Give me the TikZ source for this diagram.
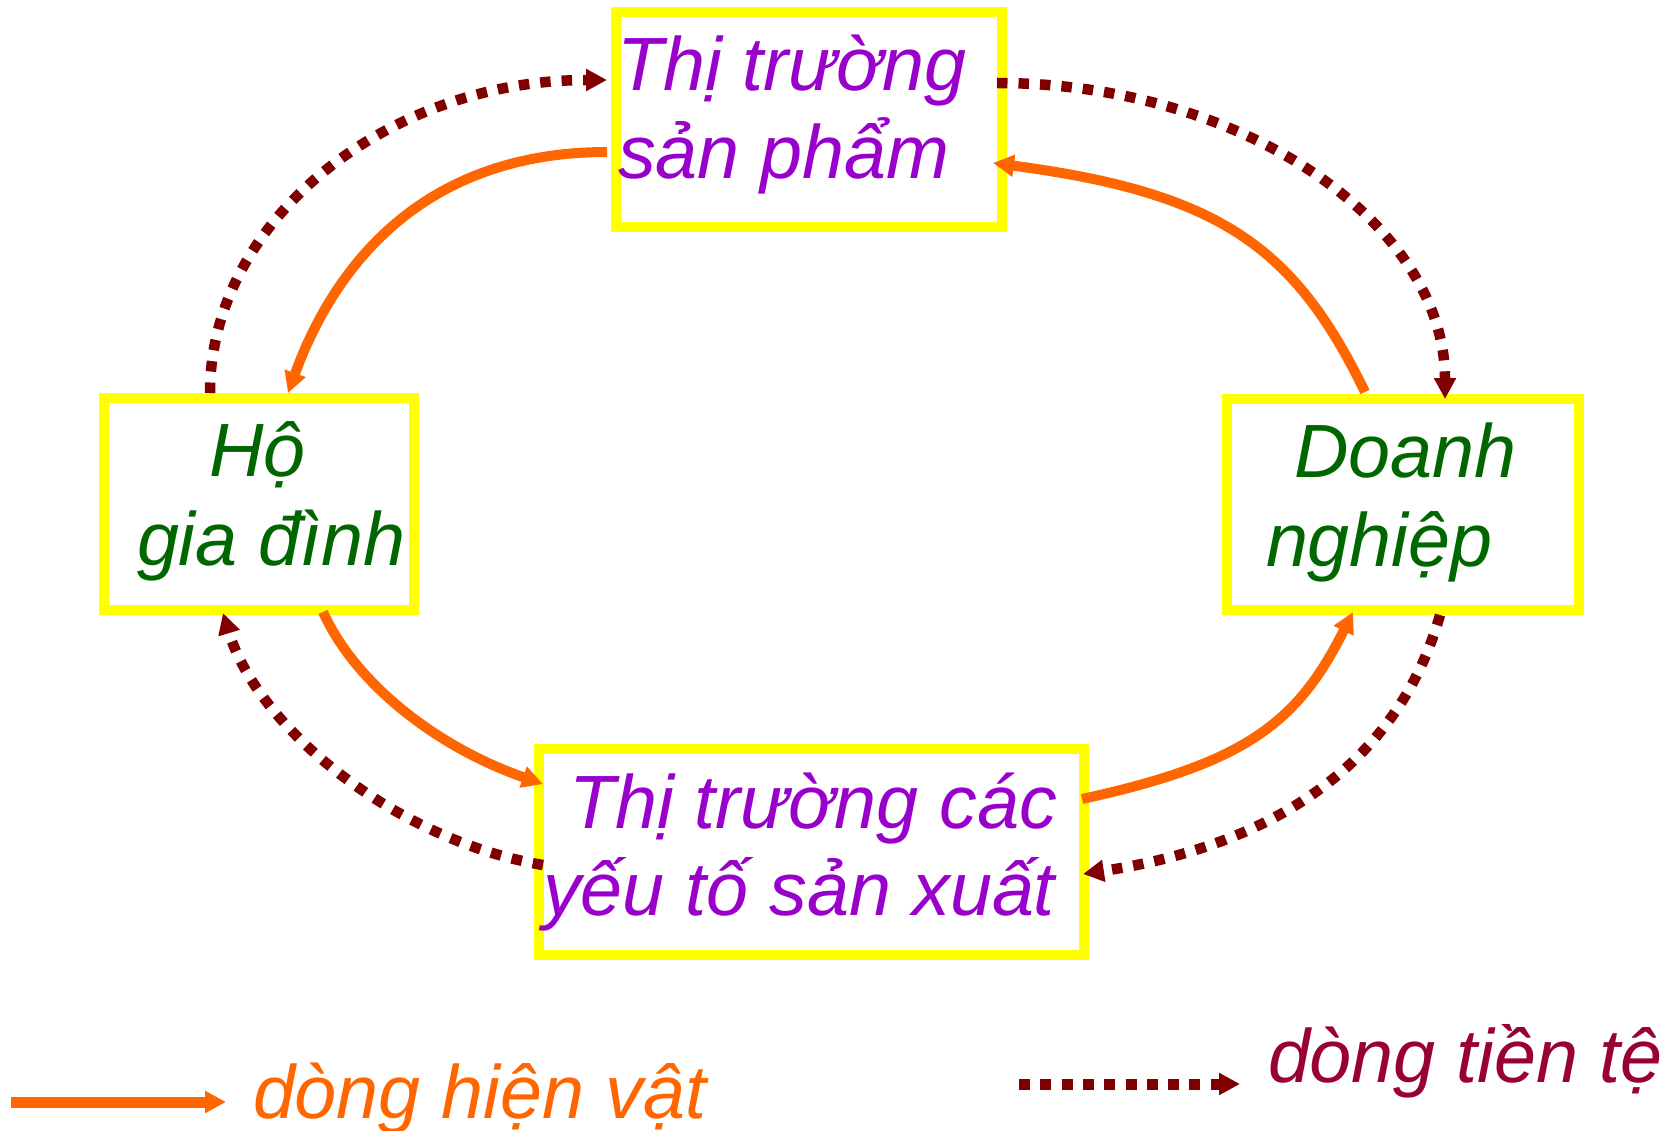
\documentclass[tikz,border=0pt]{standalone}
\usepackage{fontspec}
\setmainfont{Liberation Sans}
\usetikzlibrary{arrows.meta}
\definecolor{boxyellow}{HTML}{FFFF00}
\definecolor{mktpurple}{HTML}{9900CC}
\definecolor{agentgreen}{HTML}{006600}
\definecolor{goodsorange}{HTML}{FF6600}
\definecolor{moneyred}{HTML}{800000}
\definecolor{legendred}{HTML}{990033}
\begin{document}
\begin{tikzpicture}[x=1pt,y=1pt,
  box/.style={draw=boxyellow, line width=10pt, inner sep=0pt, outer sep=5pt},
  bigtext/.style={font=\fontsize{75.5}{87}\selectfont\itshape, anchor=base west, inner sep=0pt, outer sep=0pt},
  mkt/.style={bigtext, text=mktpurple},
  agent/.style={bigtext, text=agentgreen},
  goods/.style={draw=goodsorange, line width=10pt, -{Triangle[length=21pt,width=21pt]}},
  money/.style={draw=moneyred, line width=10.5pt, dash pattern=on 10.5pt off 11pt, -{Triangle[length=21pt,width=21pt]}},
]
\fill[white] (0,0) rectangle (1672,-1131);
\useasboundingbox (0,0) rectangle (1672,-1131);

% boxes
\node[box, minimum width=386pt, minimum height=215pt] (b1) at (809,-119.5) {};
\node[box, minimum width=310pt, minimum height=212pt] (b2) at (259,-504) {};
\node[box, minimum width=352pt, minimum height=211pt] (b3) at (1403,-504.5) {};
\node[box, minimum width=545pt, minimum height=206pt] (b4) at (811,-852) {};

% money flows (dotted)
\draw[money] ([xshift=-49pt]b2.north) .. controls +(0,173) and +(-219,0) .. ([xshift=-4pt,yshift=39.5pt]b1.west);
\draw[money] ([xshift=-10pt,yshift=36.5pt]b1.east) .. controls +(247,0) and +(0,175) .. ([xshift=42pt,yshift=-5pt]b3.north);
\draw[money] ([xshift=37pt]b3.south) .. controls +(-41,-144) and +(198,30) .. ([xshift=-5.5pt,yshift=-22pt]b4.east);
\draw[money] ([xshift=9.5pt,yshift=-13pt]b4.west) .. controls +(-148,25) and +(35,-115) .. ([xshift=-36pt,yshift=2pt]b2.south);

% goods flows (solid)
\draw[goods] ([xshift=-4pt,yshift=-32.5pt]b1.west) .. controls +(-180,0) and +(48,132) .. ([xshift=29pt]b2.north);
\draw[goods] ([xshift=-38pt,yshift=2pt]b3.north) .. controls +(-70,144) and +(228,-30) .. ([xshift=-14pt,yshift=-43.5pt]b1.east);
\draw[goods] ([xshift=64pt,yshift=3pt]b2.south) .. controls +(33,-73) and +(-104,36) .. ([xshift=9.5pt,yshift=68pt]b4.west);
\draw[goods] ([xshift=-6.5pt,yshift=53pt]b4.east) .. controls +(165,36) and +(-55,-110) .. ([xshift=-50pt,yshift=3pt]b3.south);

% texts
\node[mkt] (t1a) at (617,-91) {Thị trường};
\node[mkt] (t1b) at (618,-179) {sản phẩm};
\node[agent] (t2a) at (209,-476) {Hộ};
\node[agent] (t2b) at (137,-565) {gia đình};
\node[agent] (t3a) at (1294,-477) {Doanh};
\node[agent] (t3b) at (1266,-566) {nghiệp};
\node[mkt] (t4a) at (569,-828) {Thị trường các};
\node[mkt] (t4b) at (543,-915) {yếu tố sản xuất};

% legend
\coordinate (lg1s) at (11,-1102);
\coordinate (lg1e) at (226,-1102);
\draw[goods, line width=11pt] (lg1s) -- (lg1e);
\node[bigtext, text=goodsorange] (lg1t) at (253,-1118) {dòng hiện vật};
\coordinate (lg2s) at (1019,-1084);
\coordinate (lg2e) at (1240,-1084);
\draw[money, line width=11pt, dash pattern=on 11pt off 10.3pt] (lg2s) -- (lg2e);
\node[bigtext, text=legendred] (lg2t) at (1268,-1082) {dòng tiền tệ};
\end{tikzpicture}
\end{document}
